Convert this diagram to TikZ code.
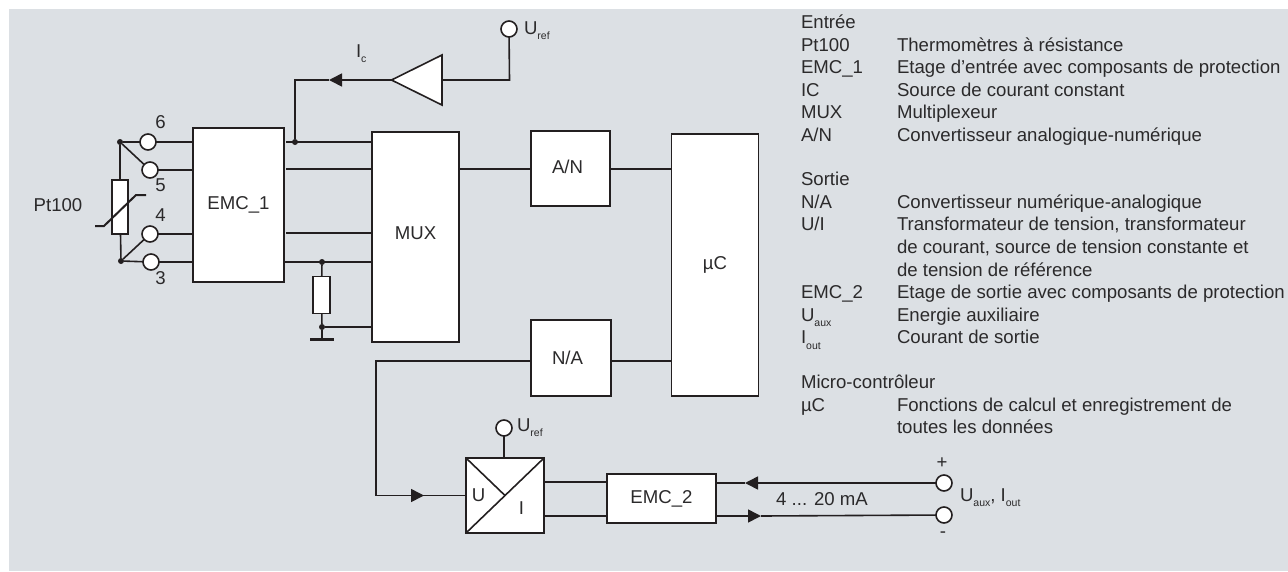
\documentclass[tikz,border=0pt]{standalone}
\usepackage{fontspec}
\setmainfont{Liberation Sans}
\usetikzlibrary{arrows.meta}
\definecolor{bgc}{HTML}{DCE0E4}
\definecolor{ink}{HTML}{231F20}
\definecolor{txt}{HTML}{2B2A2B}
\newcommand{\low}[1]{\raisebox{-0.32em}{\fontsize{10.5}{10.5}\selectfont #1}}
\tikzset{
  x=1pt,y=-1pt,
  every node/.style={text=txt,font=\fontsize{18.6}{21}\selectfont,inner sep=0pt,outer sep=0pt},
  blockbox/.style={draw=ink,fill=white,line width=1.6pt,align=center},
  wire/.style={draw=ink,line width=1.6pt},
  term/.style={circle,draw=ink,fill=white,line width=1.6pt,minimum size=16pt},
  joint/.style={circle,fill=ink,minimum size=6pt},
  lab/.style={anchor=base west},
  arrowed/.style={-{Triangle[length=13pt,width=13pt]}},
}
\begin{document}
\begin{tikzpicture}
\useasboundingbox (0,0) rectangle (1288,571);
\fill[bgc] (9,9) rectangle (1288,571);
% blocks
\node[blockbox,minimum width=91pt,minimum height=154pt] (emc1) at (238.5,205) {\raisebox{1pt}{EMC\_1}};
\node[blockbox,minimum width=87pt,minimum height=210pt] (mux) at (415.5,237) {\raisebox{8pt}{MUX}};
\node[blockbox,minimum width=79pt,minimum height=75pt] (an) at (570.5,168.5) {\raisebox{3.5pt}{A/N\hspace{6pt}}};
\node[blockbox,minimum width=87pt,minimum height=262pt] (uc) at (715,265) {\raisebox{2pt}{µC}};
\node[blockbox,minimum width=80pt,minimum height=76pt] (na) at (571,358) {\raisebox{1pt}{N/A\hspace{7pt}}};
\node[blockbox,minimum width=78pt,minimum height=75pt] (ui) at (505,495.5) {};
\node[blockbox,minimum width=109pt,minimum height=49pt] (emc2) at (661.5,498.5) {\raisebox{1pt}{EMC\_2}};
\node[blockbox,minimum width=16pt,minimum height=54pt] (rpt) at (120,207) {};
\node[blockbox,minimum width=17pt,minimum height=37pt] (rg) at (321.5,295) {};
% terminals
\node[term] (t6) at (148,142) {};
\node[term] (t5) at (150,170) {};
\node[term] (t4) at (150,234) {};
\node[term] (t3) at (151,262) {};
\node[term] (tref) at (509,29) {};
\node[term] (tref2) at (504,428) {};
\node[term] (tp) at (944,483) {};
\node[term] (tm) at (944,515) {};
% joints
\node[joint] (j1) at (120,142) {};
\node[joint] (j2) at (121,261) {};
\node[joint] (j3) at (295,142) {};
\node[joint] (j4) at (322,262) {};
\node[joint] (j5) at (322,327) {};
% helper points
\coordinate (amptip) at (391.5,80);
\coordinate (ampup) at (442,55);
\coordinate (ampdn) at (442,105);
\coordinate (ampback) at (442,80);
\coordinate (refcorner) at (509.5,80);
\coordinate (tipamp) at (329,80);
\coordinate (corner1) at (295,80);
\coordinate (corner2) at (376,361);
\coordinate (corner3) at (376,495.5);
\coordinate (tipui) at (424,495.5);
\coordinate (tipp) at (745,483);
\coordinate (tipm) at (761,516);
\coordinate (gnd) at (322,339);
\coordinate (gndl) at (310,339);
\coordinate (gndr) at (334,339);
\coordinate (s1) at (95,226);
\coordinate (s2) at (104,226);
\coordinate (s3) at (136,195);
\coordinate (s4) at (146,195);
\coordinate (w2) at (286,169);
\coordinate (w3) at (286,233);
\coordinate (w1) at (286,142);
% input wiring
\draw[wire] (j1) -- (t6);
\draw[wire] (j1) -- (t5);
\draw[wire] (j2) -- (t3);
\draw[wire] (j2) -- (t4);
\draw[wire] (j1) -- (rpt);
\draw[wire] (j2) -- (rpt);
\draw[wire] (t6) -- (t6 -| emc1.west);
\draw[wire] (t5) -- (t5 -| emc1.west);
\draw[wire] (t4) -- (t4 -| emc1.west);
\draw[wire] (t3) -- (t3 -| emc1.west);
\draw[ink,line width=2pt] (s1) -- (s2) -- (s3) -- (s4);
\draw[wire] (w1) -- (w1 -| mux.west);
\draw[wire] (w2) -- (w2 -| mux.west);
\draw[wire] (w3) -- (w3 -| mux.west);
\draw[wire] (j4 -| emc1.east) -- (j4 -| mux.west);
\draw[wire] (j4) -- (rg);
\draw[wire] (rg) -- (j5);
\draw[wire] (j5) -- (j5 -| mux.west);
\draw[wire] (j5) -- (gnd);
\draw[ink,line width=3pt] (gndl) -- (gndr);
% reference source
\draw[wire,fill=white] (amptip) -- (ampup) -- (ampdn) -- cycle;
\draw[wire] (tref) -- (refcorner) -- (ampback);
\draw[wire,arrowed] (amptip) -- (tipamp);
\draw[wire] (tipamp) -- (corner1) -- (j3);
% main chain
\draw[wire] (mux.east |- 0,169) -- (an.west |- 0,169);
\draw[wire] (an.east |- 0,169) -- (uc.west |- 0,169);
\draw[wire] (na.east |- corner2) -- (uc.west |- corner2);
\draw[wire] (na.west |- corner2) -- (corner2) -- (corner3) -- (tipui);
\draw[wire,arrowed] (corner3) -- (tipui);
\draw[wire] (tipui) -- (ui.west);
\draw[wire] (tref2) -- (ui.north -| tref2);
\draw[ink,line width=1.6pt] (ui.south west) -- (ui.north east);
\draw[ink,line width=1.6pt] (ui.north west) -- (ui.center);
\draw[wire] (ui.east |- 0,482) -- (emc2.west |- 0,482);
\draw[wire] (ui.east |- 0,516) -- (emc2.west |- 0,516);
\draw[wire,arrowed] (tp) -- (tipp);
\draw[wire] (tipp) -- (emc2.east |- tipp);
\draw[wire,arrowed] (emc2.east |- tipm) -- (tipm);
\draw[wire] (tipm) -- (tm);
% diagram labels
\node (lpt) at (58,205) {Pt100};
\node (l6) at (160.5,122) {6};
\node (l5) at (160.5,185.5) {5};
\node (l4) at (160.5,215) {4};
\node (l3) at (160.5,278) {3};
\node[lab] (lic) at (356,57) {I\low{c}};
\node[lab] (lref) at (524,34) {U\low{ref}};
\node[lab] (lref2) at (517,431) {U\low{ref}};
\node (lu) at (478.5,495.5) {U};
\node (li) at (521.5,508) {I};
\node (lma) at (822,499) {4 ... 20 mA};
\node[lab] (luaux) at (960,501) {U\low{aux}, I\low{out}};
\node (lplus) at (942,463) {+};
\node (lminus) at (943,535) {-};
% legend
\node[lab] (a0) at (801,28.5) {Entrée};
\node[lab] (a1) at (801,51) {Pt100};
\node[lab] (b1) at (897,51) {Thermomètres à résistance};
\node[lab] (a2) at (801,73.5) {EMC\_1};
\node[lab] (b2) at (897,73.5) {Etage d’entrée avec composants de protection};
\node[lab] (a3) at (801,96) {IC};
\node[lab] (b3) at (897,96) {Source de courant constant};
\node[lab] (a4) at (801,118.5) {MUX};
\node[lab] (b4) at (897,118.5) {Multiplexeur};
\node[lab] (a5) at (801,141) {A/N};
\node[lab] (b5) at (897,141) {Convertisseur analogique-numérique};
\node[lab] (a6) at (801,185.5) {Sortie};
\node[lab] (a7) at (801,208.5) {N/A};
\node[lab] (b7) at (897,208.5) {Convertisseur numérique-analogique};
\node[lab] (a8) at (801,230.5) {U/I};
\node[lab] (b8) at (897,230.5) {Transformateur de tension, transformateur};
\node[lab] (b9) at (897,253.5) {de courant, source de tension constante et};
\node[lab] (b10) at (897,276) {de tension de référence};
\node[lab] (a11) at (801,298.5) {EMC\_2};
\node[lab] (b11) at (897,298.5) {Etage de sortie avec composants de protection};
\node[lab] (a12) at (801,321) {U\low{aux}};
\node[lab] (b12) at (897,321) {Energie auxiliaire};
\node[lab] (a13) at (801,343.5) {I\low{out}};
\node[lab] (b13) at (897,343.5) {Courant de sortie};
\node[lab] (a14) at (801,388.5) {Micro-contrôleur};
\node[lab] (a15) at (801,411) {µC};
\node[lab] (b15) at (897,411) {Fonctions de calcul et enregistrement de};
\node[lab] (b16) at (897,433.5) {toutes les données};
\end{tikzpicture}
\end{document}
